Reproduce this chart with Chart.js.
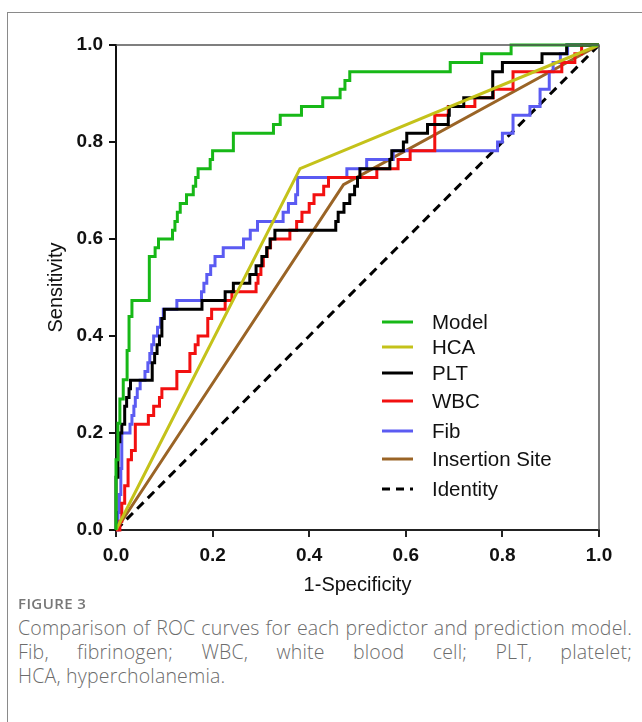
<!DOCTYPE html>
<html>
<head>
<meta charset="utf-8">
<script src="https://cdn.jsdelivr.net/npm/chart.js@4.4.1/dist/chart.umd.min.js"></script>
<style>
  html, body { margin: 0; padding: 0; background: #fff; }
  body { width: 642px; height: 722px; position: relative; overflow: hidden; }
  #frame { position: absolute; left: 7px; top: 12px; width: 700px; height: 760px; border: 1px solid #8a8a8a; box-sizing: border-box; }
  #chart { position: absolute; left: 0; top: 0; }
  #fig { position: absolute; left: 18px; top: 593px; font-family: "Open Sans", sans-serif; font-size: 15px; font-weight: 600; color: #777; letter-spacing: 0.4px; }
  .cap { position: absolute; left: 18px; width: 614px; font-family: "Open Sans", sans-serif; font-size: 19.5px; font-weight: 300; letter-spacing: 0.2px; color: #6c6c6c; white-space: nowrap; text-align: justify; text-align-last: justify; }
  .cap.last { text-align-last: left; }
</style>
</head>
<body>
<div id="frame"></div>
<canvas id="chart" width="642" height="610"></canvas>
<div id="fig">FIGURE 3</div>
<div class="cap" style="top:614px">Comparison of ROC curves for each predictor and prediction model.</div>
<div class="cap" style="top:638px">Fib, fibrinogen; WBC, white blood cell; PLT, platelet;</div>
<div class="cap last" style="top:662px">HCA, hypercholanemia.</div>
<script>
// [1-specificity, sensitivity]
const model = [[0,0],[0,0.145],[0.004,0.145],[0.004,0.22],[0.008,0.22],[0.008,0.27],[0.015,0.27],[0.015,0.31],[0.023,0.31],[0.023,0.37],[0.027,0.37],[0.027,0.44],[0.033,0.44],[0.033,0.473],[0.069,0.473],[0.069,0.564],[0.081,0.564],[0.081,0.582],[0.088,0.582],[0.088,0.6],[0.117,0.6],[0.117,0.618],[0.122,0.618],[0.122,0.636],[0.127,0.636],[0.127,0.655],[0.133,0.655],[0.133,0.673],[0.146,0.673],[0.146,0.691],[0.16,0.691],[0.16,0.709],[0.165,0.709],[0.165,0.727],[0.17,0.727],[0.17,0.745],[0.195,0.745],[0.195,0.764],[0.2,0.764],[0.2,0.782],[0.243,0.782],[0.243,0.818],[0.326,0.818],[0.326,0.836],[0.34,0.836],[0.34,0.855],[0.384,0.855],[0.384,0.873],[0.428,0.873],[0.428,0.891],[0.464,0.891],[0.464,0.909],[0.474,0.909],[0.474,0.927],[0.484,0.927],[0.484,0.945],[0.692,0.945],[0.692,0.964],[0.757,0.964],[0.757,0.982],[0.818,0.982],[0.818,1],[1,1]];
const hca = [[0,0],[0.381,0.745],[1,1]];
const plt = [[0,0],[0,0.109],[0.004,0.109],[0.004,0.182],[0.008,0.182],[0.008,0.2],[0.012,0.2],[0.012,0.218],[0.018,0.218],[0.018,0.255],[0.022,0.255],[0.022,0.273],[0.027,0.273],[0.027,0.291],[0.03,0.291],[0.03,0.309],[0.075,0.309],[0.075,0.345],[0.08,0.345],[0.08,0.364],[0.085,0.364],[0.085,0.382],[0.09,0.382],[0.09,0.4],[0.095,0.4],[0.095,0.436],[0.1,0.436],[0.1,0.455],[0.178,0.455],[0.178,0.473],[0.226,0.473],[0.226,0.491],[0.243,0.491],[0.243,0.509],[0.277,0.509],[0.277,0.527],[0.29,0.527],[0.29,0.545],[0.302,0.545],[0.302,0.564],[0.312,0.564],[0.312,0.582],[0.319,0.582],[0.319,0.6],[0.329,0.6],[0.329,0.618],[0.455,0.618],[0.455,0.636],[0.46,0.636],[0.46,0.655],[0.472,0.655],[0.472,0.673],[0.484,0.673],[0.484,0.691],[0.494,0.691],[0.494,0.709],[0.5,0.709],[0.5,0.727],[0.505,0.727],[0.505,0.745],[0.567,0.745],[0.567,0.764],[0.571,0.764],[0.571,0.782],[0.595,0.782],[0.595,0.8],[0.602,0.8],[0.602,0.818],[0.645,0.818],[0.645,0.836],[0.688,0.836],[0.688,0.855],[0.69,0.855],[0.69,0.873],[0.72,0.873],[0.72,0.891],[0.78,0.891],[0.78,0.945],[0.8,0.945],[0.8,0.964],[0.882,0.964],[0.882,0.982],[0.933,0.982],[0.933,1],[1,1]];
const wbc = [[0,0],[0.008,0],[0.008,0.018],[0.012,0.018],[0.012,0.055],[0.018,0.055],[0.018,0.091],[0.025,0.091],[0.025,0.145],[0.032,0.145],[0.032,0.164],[0.04,0.164],[0.04,0.218],[0.067,0.218],[0.067,0.236],[0.078,0.236],[0.078,0.255],[0.09,0.255],[0.09,0.273],[0.095,0.273],[0.095,0.291],[0.126,0.291],[0.126,0.327],[0.153,0.327],[0.153,0.364],[0.164,0.364],[0.164,0.382],[0.17,0.382],[0.17,0.4],[0.19,0.4],[0.19,0.436],[0.198,0.436],[0.198,0.455],[0.226,0.455],[0.226,0.473],[0.24,0.473],[0.24,0.491],[0.29,0.491],[0.29,0.509],[0.294,0.509],[0.294,0.527],[0.3,0.527],[0.3,0.545],[0.305,0.545],[0.305,0.564],[0.313,0.564],[0.313,0.582],[0.32,0.582],[0.32,0.6],[0.36,0.6],[0.36,0.618],[0.374,0.618],[0.374,0.636],[0.385,0.636],[0.385,0.655],[0.4,0.655],[0.4,0.673],[0.41,0.673],[0.41,0.691],[0.43,0.691],[0.43,0.709],[0.44,0.709],[0.44,0.727],[0.54,0.727],[0.54,0.745],[0.584,0.745],[0.584,0.764],[0.609,0.764],[0.609,0.782],[0.66,0.782],[0.66,0.855],[0.688,0.855],[0.688,0.873],[0.743,0.873],[0.743,0.891],[0.781,0.891],[0.781,0.909],[0.822,0.909],[0.822,0.945],[0.923,0.945],[0.923,0.964],[0.95,0.964],[0.95,0.982],[0.964,0.982],[0.964,1],[1,1]];
const fib = [[0,0],[0.004,0],[0.004,0.036],[0.007,0.036],[0.007,0.073],[0.01,0.073],[0.01,0.127],[0.012,0.127],[0.012,0.2],[0.029,0.2],[0.029,0.218],[0.033,0.218],[0.033,0.236],[0.037,0.236],[0.037,0.255],[0.04,0.255],[0.04,0.273],[0.044,0.273],[0.044,0.291],[0.05,0.291],[0.05,0.309],[0.06,0.309],[0.06,0.327],[0.066,0.327],[0.066,0.345],[0.07,0.345],[0.07,0.364],[0.074,0.364],[0.074,0.382],[0.078,0.382],[0.078,0.4],[0.086,0.4],[0.086,0.418],[0.092,0.418],[0.092,0.436],[0.098,0.436],[0.098,0.455],[0.126,0.455],[0.126,0.473],[0.177,0.473],[0.177,0.491],[0.182,0.491],[0.182,0.509],[0.188,0.509],[0.188,0.527],[0.196,0.527],[0.196,0.545],[0.205,0.545],[0.205,0.564],[0.222,0.564],[0.222,0.582],[0.264,0.582],[0.264,0.6],[0.278,0.6],[0.278,0.618],[0.293,0.618],[0.293,0.636],[0.346,0.636],[0.346,0.655],[0.357,0.655],[0.357,0.673],[0.372,0.673],[0.372,0.691],[0.376,0.691],[0.376,0.727],[0.478,0.727],[0.478,0.745],[0.519,0.745],[0.519,0.764],[0.574,0.764],[0.574,0.782],[0.79,0.782],[0.79,0.8],[0.8,0.8],[0.8,0.818],[0.822,0.818],[0.822,0.855],[0.857,0.855],[0.857,0.873],[0.878,0.873],[0.878,0.909],[0.897,0.909],[0.897,0.945],[0.905,0.945],[0.905,0.964],[0.92,0.964],[0.92,0.982],[0.935,0.982],[0.935,1],[1,1]];
const insertion = [[0,0],[0.471,0.712],[1,1]];
const identity = [[0,0],[1,1]];
const tickVals = [0, 0.2, 0.4, 0.6, 0.8, 1.0];

const toXY = arr => arr.map(p => ({x: p[0], y: p[1]}));

function line(label, pts, color, dash) {
  return {
    label: label,
    data: toXY(pts),
    borderColor: color,
    backgroundColor: color,
    borderWidth: 3,
    borderDash: dash || [],
    borderJoinStyle: 'miter',
    showLine: true,
    pointRadius: 0,
    tension: 0,
    clip: 4
  };
}

// top and right frame lines
const framePlugin = {
  id: 'frame',
  afterDraw(chart) {
    const {ctx, chartArea: a} = chart;
    ctx.save();
    ctx.strokeStyle = '#555';
    ctx.lineWidth = 1.5;
    ctx.beginPath();
    ctx.moveTo(a.left, a.top);
    ctx.lineTo(a.right, a.top);
    ctx.lineTo(a.right, a.bottom);
    ctx.stroke();
    ctx.restore();
  }
};

// legend placed inside plot, lower right
const legendPlugin = {
  id: 'inLegend',
  afterDraw(chart) {
    const ctx = chart.ctx;
    const rows = [322, 347, 373, 401, 431, 459, 489];
    ctx.save();
    ctx.font = '20.5px Arial, "Liberation Sans", sans-serif';
    ctx.textBaseline = 'middle';
    ctx.fillStyle = '#111';
    chart.data.datasets.forEach((ds, i) => {
      const y = rows[i];
      ctx.strokeStyle = ds.borderColor;
      ctx.lineWidth = 3;
      ctx.setLineDash(ds.borderDash.length ? [8, 6] : []);
      ctx.beginPath();
      ctx.moveTo(382, y);
      ctx.lineTo(413, y);
      ctx.stroke();
      ctx.setLineDash([]);
      ctx.fillText(ds.label, 432, y + 1);
    });
    ctx.restore();
  }
};

const tickFont = {family: 'Arial, "Liberation Sans", sans-serif', size: 19, weight: 'bold'};
const titleFont = {family: 'Arial, "Liberation Sans", sans-serif', size: 20};

new Chart(document.getElementById('chart'), {
  type: 'scatter',
  data: {
    datasets: [
      line('Model', model, '#17b817'),
      line('HCA', hca, '#c4c21a'),
      line('PLT', plt, '#000000'),
      line('WBC', wbc, '#f21010'),
      line('Fib', fib, '#5b5bf2'),
      line('Insertion Site', insertion, '#9a6426'),
      line('Identity', identity, '#000000', [9, 6])
    ]
  },
  options: {
    responsive: false,
    animation: false,
    layout: { padding: {top: 45, right: 43, left: 0, bottom: 0} },
    scales: {
      x: {
        type: 'linear',
        min: 0, max: 1,
        afterFit: s => { s.height = 80; },
        afterBuildTicks: s => { s.ticks = tickVals.map(v => ({value: v})); },
        ticks: { font: tickFont, color: '#111', padding: 7, maxRotation: 0, callback: v => v.toFixed(1) },
        grid: { drawOnChartArea: false, drawTicks: true, tickLength: 7, color: '#222', lineWidth: 2 },
        border: { display: true, color: '#222', width: 2 },
        title: { display: true, text: '1-Specificity', font: titleFont, color: '#111', padding: {top: 0, bottom: 13} }
      },
      y: {
        type: 'linear',
        min: 0, max: 1,
        afterFit: s => { s.width = 116; },
        afterBuildTicks: s => { s.ticks = tickVals.map(v => ({value: v})); },
        ticks: { font: tickFont, color: '#111', padding: 6, callback: v => v.toFixed(1) },
        grid: { drawOnChartArea: false, drawTicks: true, tickLength: 7, color: '#111', lineWidth: 2 },
        border: { display: true, color: '#111', width: 2 },
        title: { display: true, text: 'Sensitivity', font: titleFont, color: '#111', padding: {top: 44, bottom: 0} }
      }
    },
    plugins: {
      legend: { display: false },
      tooltip: { enabled: false }
    }
  },
  plugins: [framePlugin, legendPlugin]
});
</script>
</body>
</html>
